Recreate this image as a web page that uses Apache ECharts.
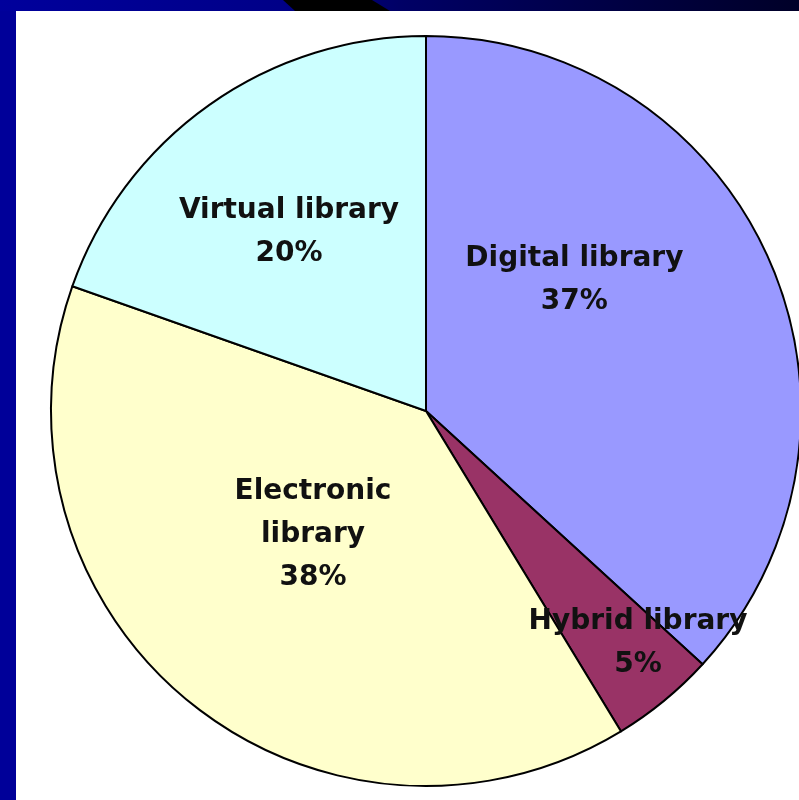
<!DOCTYPE html>
<html>
<head>
<meta charset="utf-8">
<script src="https://cdn.jsdelivr.net/npm/echarts@6/dist/echarts.min.js"></script>
<style>
  html, body { margin: 0; padding: 0; width: 799px; height: 800px; overflow: hidden; background: #000099; }
  #topbar { position: absolute; left: 0; top: 0; width: 799px; height: 11px;
    background: linear-gradient(to right, #00009c 0%, #000088 35%, #000066 50%, #000040 80%, #000028 100%); }
  #blackcut { position: absolute; left: 0; top: 0; width: 799px; height: 11px; background: #000000;
    clip-path: polygon(283px 0, 372px 0, 390px 11px, 295px 11px); }
  #panel { position: absolute; left: 16px; top: 11px; width: 783px; height: 789px; background: #ffffff; }
  #chart { position: absolute; left: 0; top: 0; width: 799px; height: 800px; }
</style>
</head>
<body>
<div id="topbar"></div>
<div id="blackcut"></div>
<div id="panel"></div>
<div id="chart"></div>
<script>
// Data
const categories = ['Digital library', 'Hybrid library', 'Electronic library', 'Virtual library'];
const labelNames = ['Digital library', 'Hybrid library', 'Electronic\nlibrary', 'Virtual library'];
const values = [36.8, 4.5, 39.1, 19.6];
const percentLabels = ['37%', '5%', '38%', '20%'];

// Styling / layout (not data)
const colors = ['#9999ff', '#993366', '#ffffcc', '#ccffff'];
const labelOffsets = [[-26, -54], [91, 85], [7, -24], [-27, -23]];

const chart = echarts.init(document.getElementById('chart'), null, { renderer: 'canvas' });
chart.setOption({
  backgroundColor: 'transparent',
  animation: false,
  series: [{
    type: 'pie',
    center: [426, 411],
    radius: [0, 375],
    startAngle: 90,
    clockwise: true,
    avoidLabelOverlap: false,
    emphasis: { disabled: true },
    itemStyle: { borderColor: '#000000', borderWidth: 2 },
    label: {
      show: true,
      position: 'inside',
      fontFamily: 'DejaVu Sans',
      fontWeight: 'bold',
      fontSize: 28,
      lineHeight: 43,
      color: '#111111',
      align: 'center'
    },
    labelLine: { show: false },
    data: categories.map((c, i) => ({
      name: c,
      value: values[i],
      itemStyle: { color: colors[i] },
      label: {
        formatter: labelNames[i] + '\n' + percentLabels[i],
        offset: labelOffsets[i]
      }
    }))
  }]
});
</script>
</body>
</html>
